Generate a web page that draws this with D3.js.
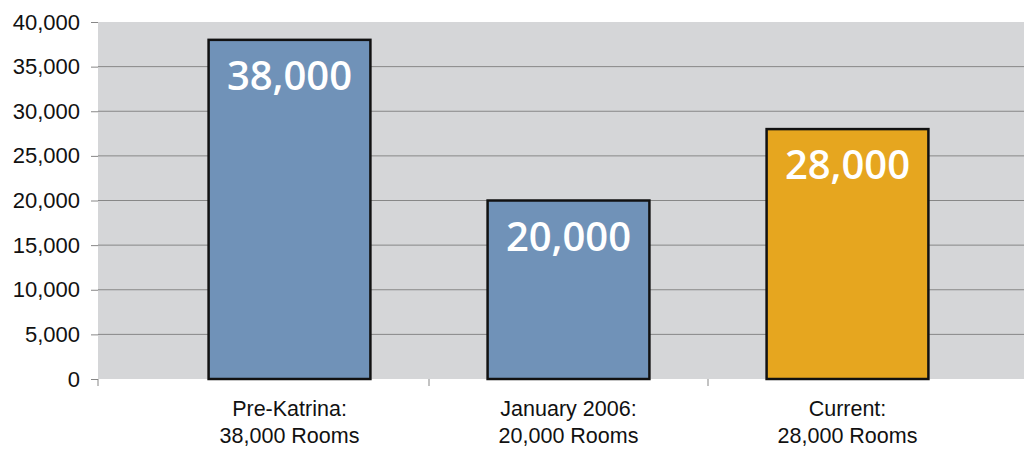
<!DOCTYPE html>
<html><head><meta charset="utf-8">
<script src="https://cdn.jsdelivr.net/npm/d3@7"></script>
<style>body{margin:0;background:#fff}svg{display:block}</style>
</head><body>
<script>
const categories = ["Pre-Katrina:|38,000 Rooms", "January 2006:|20,000 Rooms", "Current:|28,000 Rooms"];
const values = [38000, 20000, 28000];
const barLabels = ["38,000", "20,000", "28,000"];
const barColors = ["#7092b8", "#7092b8", "#e6a61f"];
const yTicks = [0, 5000, 10000, 15000, 20000, 25000, 30000, 35000, 40000];

const W = 1024, H = 449;
const svg = d3.select("body").append("svg").attr("width", W).attr("height", H);

const plotL = 98, plotR = 1024, plotT = 22, plotB = 379;
const y = d3.scaleLinear().domain([0, 40000]).range([plotB, plotT]);
const x = d3.scaleBand().domain(categories).range([150, 987]).padding(0);

svg.append("rect").attr("x", plotL).attr("y", plotT).attr("width", plotR - plotL).attr("height", plotB - plotT).attr("fill", "#d5d6d8");

// gridlines
svg.append("g").selectAll("line").data(yTicks.filter(t => t > 0 && t < 40000)).join("line")
  .attr("x1", plotL).attr("x2", plotR).attr("y1", d => y(d)).attr("y2", d => y(d))
  .attr("stroke", "#878787").attr("stroke-width", 1);

// y axis
const yAxis = d3.axisLeft(y).tickValues(yTicks).tickSize(7).tickPadding(11).tickFormat(d3.format(","));
const gy = svg.append("g").attr("transform", `translate(${plotL},0)`).call(yAxis);
gy.select(".domain").remove();
gy.selectAll(".tick line").attr("stroke", "#878787");
gy.selectAll("text").attr("font-family", "Liberation Sans, Arial, sans-serif").attr("font-size", 22).attr("fill", "#111");

// x category separator ticks
const seps = [plotL, x.range()[0] + x.step(), x.range()[0] + 2 * x.step()];
svg.append("g").selectAll("line").data(seps).join("line")
  .attr("x1", d => d).attr("x2", d => d).attr("y1", plotB).attr("y2", plotB + 7)
  .attr("stroke", "#878787").attr("stroke-width", 1);

// bars
const bw = x.bandwidth() * 0.58, off = x.bandwidth() * 0.21;
svg.append("g").selectAll("rect").data(values).join("rect")
  .attr("x", (d, i) => x(categories[i]) + off)
  .attr("y", d => y(d))
  .attr("width", bw)
  .attr("height", d => plotB - y(d))
  .attr("fill", (d, i) => barColors[i])
  .attr("stroke", "#111").attr("stroke-width", 2.5);

// bar value labels
svg.append("g").selectAll("text").data(values).join("text")
  .attr("x", (d, i) => x(categories[i]) + x.bandwidth() / 2)
  .attr("y", d => y(d) + 50)
  .attr("text-anchor", "middle")
  .attr("font-family", "Open Sans, sans-serif").attr("font-weight", 600)
  .attr("font-size", 40).attr("fill", "#fff")
  .text((d, i) => barLabels[i]);

// category labels
const cl = svg.append("g").selectAll("text").data(categories).join("text")
  .attr("x", d => x(d) + x.bandwidth() / 2)
  .attr("text-anchor", "middle")
  .attr("font-family", "Liberation Sans, Arial, sans-serif").attr("font-size", 21.5).attr("fill", "#111");
cl.each(function(d) {
  const parts = d.split("|");
  const t = d3.select(this);
  t.append("tspan").attr("x", x(d) + x.bandwidth() / 2).attr("y", 416).text(parts[0]);
  t.append("tspan").attr("x", x(d) + x.bandwidth() / 2).attr("y", 443).text(parts[1]);
});
</script>
</body></html>
